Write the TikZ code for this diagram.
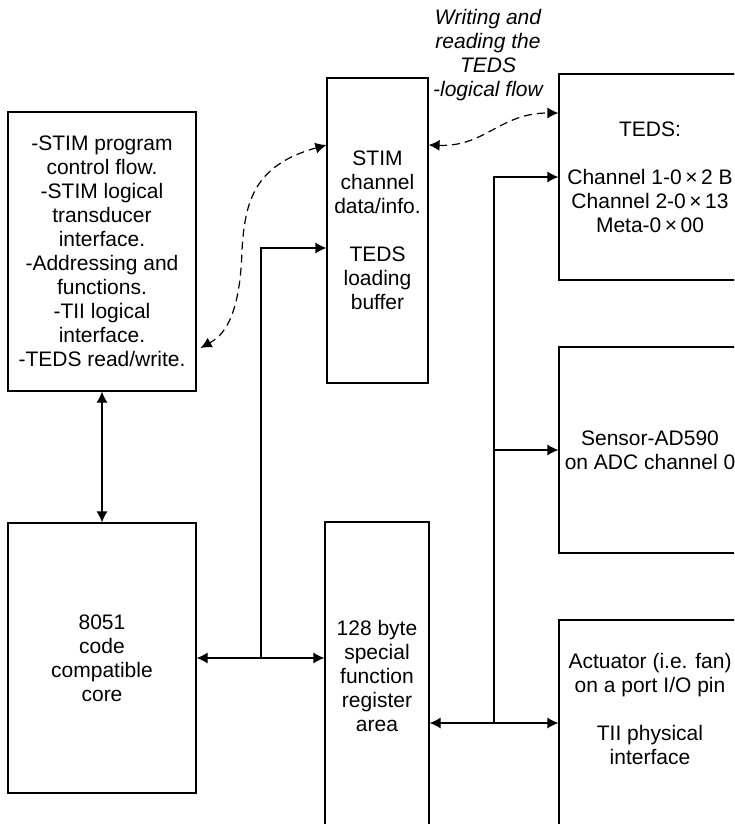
\documentclass[tikz,border=0pt]{standalone}
\usepackage{fontspec}
\setmainfont{Liberation Sans}
\usetikzlibrary{arrows.meta,positioning,calc}

\begin{document}
\begin{tikzpicture}[
  x=1pt, y=-1pt,
  every node/.style={align=center, font=\fontsize{21}{24}\selectfont},
  box/.style={draw, line width=1.2pt, inner sep=0pt},
  ar/.style={-{Latex[length=11pt,width=11pt]}, line width=1.2pt},
  dar/.style={{Latex[length=11pt,width=11pt]}-{Latex[length=11pt,width=11pt]}, line width=1.2pt},
  flow/.style={dar, dash pattern=on 8pt off 5pt}
]
\useasboundingbox (0,0) rectangle (734,824);
\clip (0,0) rectangle (734,824);
\node[box, minimum width=188pt, minimum height=279pt] (ctl) at (102,251.5) {-STIM program\\control flow.\\-STIM logical\\transducer\\interface.\\-Addressing and\\functions.\\-TII logical\\interface.\\-TEDS read/write.};
\node[box, minimum width=188pt, minimum height=270pt] (core) at (102,658) {8051\\code\\compatible\\core};
\node[box, minimum width=101pt, minimum height=305pt] (stim) at (377.5,230.5) {STIM\\channel\\data/info.\\[24pt]TEDS\\loading\\buffer};
\node[box, minimum width=104pt, minimum height=308pt] (sfr) at (377,676) {128 byte\\special\\function\\register\\area};
\node[box, minimum width=182pt, minimum height=206pt] (teds) at (650,177) {TEDS:\\[24pt]Channel 1-0\,×\,2 B\\Channel 2-0\,×\,13\\Meta-0\,×\,00};
\node[box, minimum width=182pt, minimum height=206pt] (sens) at (650,450) {Sensor-AD590\\on ADC channel 0};
\node[box, minimum width=182pt, minimum height=206pt, text depth=28pt] (act) at (650,723) {Actuator (i.e. fan)\\on a port I/O pin\\[24pt]TII physical\\interface};
\node[font=\fontsize{21}{24}\selectfont\itshape] (note) at (488,55) {Writing and\\reading the\\TEDS\\-logical flow};

% core side
\draw[dar] (ctl) -- (core);
\draw[dar] (core.east) -- (core.east -| sfr.west);
\coordinate (tap) at (261,658);
\draw[ar] (tap) |- ($(stim.west)+(0,17.5)$);

% transducer bus
\coordinate (bus) at (494,723);
\draw[dar] (act.west -| sfr.east) -- (act.west);
\draw[ar] (bus) |- (teds.west);
\draw[ar] (bus |- sens.west) -- (sens.west);

% TEDS logical flow
\draw[flow] ($(stim.west)+(0,-85.5)$) .. controls (255,165) and (245,200) .. (242,250)
  .. controls (240,320) and (222,336) .. ($(ctl.east)+(4,96.5)$);
\draw[flow] ($(stim.east)+(0,-85.5)$) .. controls (485,147) and (500,113) .. ($(teds.west)+(0,-64)$);
\end{tikzpicture}
\end{document}
